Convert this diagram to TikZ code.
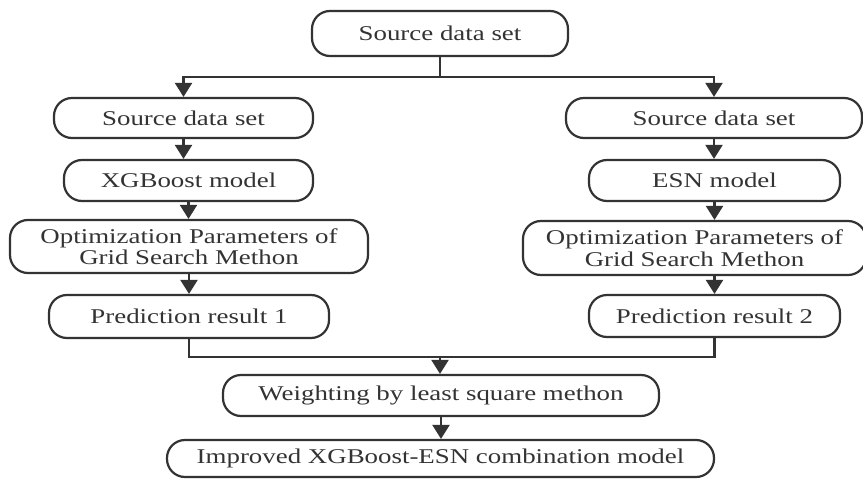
\documentclass[tikz,border=0pt]{standalone}
\usepackage{fontspec}
\setmainfont{Liberation Serif}[FakeStretch=1.28]
\usetikzlibrary{arrows.meta}
\definecolor{ink}{HTML}{333333}
\begin{document}
\begin{tikzpicture}[x=1pt,y=-1pt,
  box/.style={draw=ink, line width=2.2pt, fill=white, rounded corners=18pt,
    inner sep=0pt, align=center, text=ink,
    font=\fontsize{21}{21.5}\selectfont},
  link/.style={draw=ink, line width=2.2pt},
  arr/.style={link, -{Triangle[length=14pt,width=17pt]}}]
  \fill[white] (0,0) rectangle (863,479);
  \useasboundingbox (0,0) rectangle (863,479);

  % top source
  \node[box, minimum width=256pt, minimum height=45pt] (top) at (440,33.5) {Source data set};

  % left branch
  \node[box, minimum width=259pt, minimum height=40pt] (L1) at (183.5,118) {Source data set};
  \node[box, minimum width=249pt, minimum height=41pt] (L2) at (188.5,180.5) {XGBoost model};
  \node[box, minimum width=358pt, minimum height=53pt] (L3) at (189,246.5) {Optimization Parameters of\\Grid Search Methon};
  \node[box, minimum width=280pt, minimum height=43pt] (L4) at (189,316.5) {Prediction result 1};

  % right branch
  \node[box, minimum width=296pt, minimum height=40pt] (R1) at (714,118) {Source data set};
  \node[box, minimum width=251pt, minimum height=41pt] (R2) at (714.5,180.5) {ESN model};
  \node[box, minimum width=343pt, minimum height=54pt] (R3) at (694.5,248) {Optimization Parameters of\\Grid Search Methon};
  \node[box, minimum width=251pt, minimum height=42pt] (R4) at (714.5,316) {Prediction result 2};

  % combination
  \node[box, minimum width=436pt, minimum height=41pt] (W) at (441,395.5) {Weighting by least square methon};
  \node[box, minimum width=547pt, minimum height=37pt] (I) at (440.5,458.5) {Improved XGBoost-ESN combination model};

  % split from the source
  \coordinate (split) at (440,77);
  \draw[link] (top.south) -- (split);
  \draw[arr] (split) -| (L1.north);
  \draw[arr] (split) -| (R1.north);

  % left chain
  \draw[arr] (L1.south) -- (L1.south |- L2.north);
  \draw[arr] (L2.south) -- (L2.south |- L3.north);
  \draw[arr] (L4.north |- L3.south) -- (L4.north);

  % right chain
  \draw[arr] (R1.south) -- (R1.south |- R2.north);
  \draw[arr] (R2.south) -- (R2.south |- R3.north);
  \draw[arr] (R4.north |- R3.south) -- (R4.north);

  % join of both results
  \coordinate (join) at (440,357);
  \draw[link] (L4.south) |- (join);
  \draw[link] (R4.south) |- (join);
  \draw[arr] (join) -- (join |- W.north);
  \draw[arr] (W.south) -- (W.south |- I.north);
\end{tikzpicture}
\end{document}
